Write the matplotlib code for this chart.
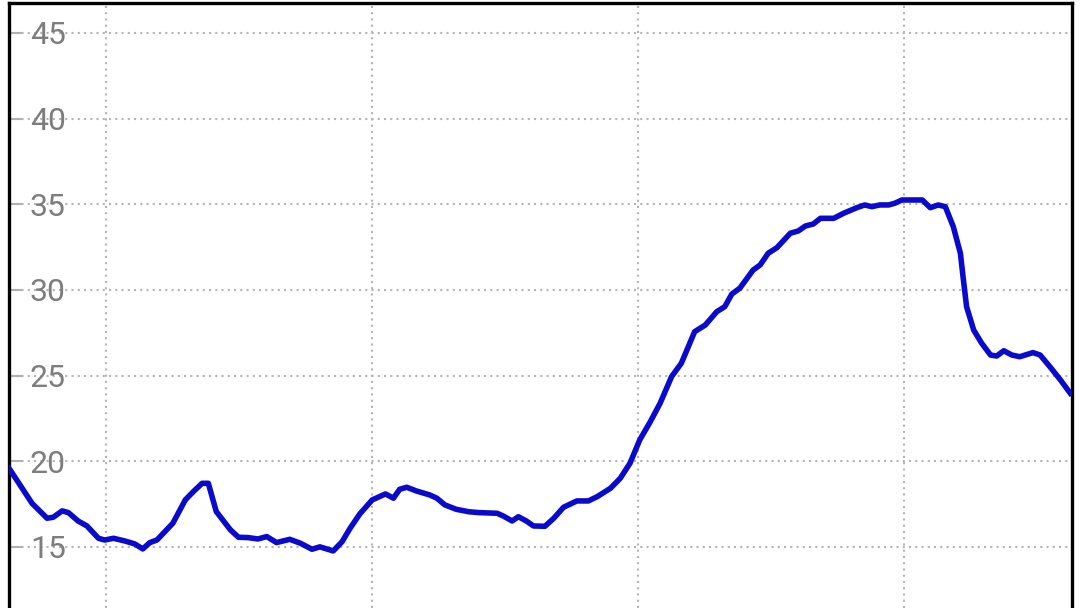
import matplotlib.pyplot as plt

# days since start, and the value on that day
days = [0.0, 2.6, 4.3, 5.0, 6.0, 6.7, 7.8, 8.8, 10.1, 10.8, 11.8, 13.1, 14.2, 15.1,
        15.9, 16.7, 17.6, 18.5, 19.9, 20.8, 21.8, 22.5, 23.4, 25.0, 25.9, 27.0,
        28.1, 29.1, 30.2, 31.7, 32.9, 34.2, 35.1, 36.6, 37.6, 38.5, 39.6, 41.0,
        42.5, 43.4, 44.1, 44.9, 46.0, 47.5, 48.3, 49.2, 50.5, 51.9, 53.0, 55.1,
        55.8, 56.8, 57.5, 58.4, 59.2, 60.5, 61.5, 62.6, 64.1, 65.4, 66.4, 67.9,
        69.0, 70.1, 71.2, 72.4, 73.5, 74.8, 75.9, 77.4, 78.6, 79.9, 80.8, 81.6,
        82.5, 84.0, 84.8, 85.7, 86.7, 88.2, 89.1, 89.9, 90.8, 91.6, 93.1, 94.2,
        95.7, 96.6, 97.4, 98.3, 99.3, 100.0, 100.8, 103.1, 104.0, 104.9, 105.7,
        106.6, 107.4, 107.7, 108.1, 108.9, 109.8, 110.8, 111.5, 112.3, 113.2,
        114.1, 115.6, 116.4, 117.5, 118.7, 119.8]
values = [19.59, 17.54, 16.67, 16.73, 17.10, 17.00, 16.51, 16.22, 15.50, 15.40,
          15.50, 15.34, 15.17, 14.88, 15.25, 15.40, 15.89, 16.38, 17.74, 18.22,
          18.71, 18.71, 17.06, 15.99, 15.56, 15.54, 15.46, 15.60, 15.25, 15.44,
          15.21, 14.86, 15.00, 14.76, 15.30, 16.08, 16.92, 17.74, 18.09, 17.84,
          18.36, 18.48, 18.26, 18.03, 17.84, 17.45, 17.19, 17.05, 17.00, 16.96,
          16.80, 16.51, 16.76, 16.51, 16.22, 16.20, 16.67, 17.31, 17.68, 17.68,
          17.93, 18.42, 19.00, 19.88, 21.24, 22.31, 23.38, 24.94, 25.72, 27.56,
          27.95, 28.73, 29.02, 29.76, 30.10, 31.16, 31.46, 32.14, 32.47, 33.31,
          33.44, 33.73, 33.85, 34.18, 34.18, 34.47, 34.80, 34.96, 34.86, 34.96,
          34.96, 35.06, 35.25, 35.25, 34.80, 34.96, 34.86, 33.69, 32.14, 30.77,
          29.02, 27.66, 26.89, 26.20, 26.14, 26.45, 26.20, 26.10, 26.34, 26.20,
          25.52, 24.74, 23.97]

y_ticks = [15, 20, 25, 30, 35, 40, 45]
x_grid = [11, 41, 71, 101]

plt.rcParams['font.family'] = ['Roboto', 'DejaVu Sans']

fig = plt.figure(figsize=(10.8, 6.08), dpi=100)
ax = fig.add_axes([9 / 1080, 0, 1063 / 1080, 605 / 608])

ax.plot(days, values, color='#0a0acc', lw=4.0, solid_joinstyle='round', zorder=3)

ax.set_xlim(0, 120)
ax.set_ylim(11.43, 46.75)
ax.set_xticks(x_grid)
ax.set_yticks(y_ticks)
ax.grid(True, color='#b4b4b4', linestyle=(0, (1, 2)), lw=1.5)

ax.tick_params(axis='x', length=0, labelbottom=False)
ax.tick_params(axis='y', direction='in', length=9, width=1.5, color='#b0b0b0',
               pad=-15, labelsize=23, labelcolor='#7d7d7d')
for lab in ax.get_yticklabels():
    lab.set_horizontalalignment('left')

for side in ['left', 'right', 'top']:
    ax.spines[side].set_linewidth(2.4)
    ax.spines[side].set_color('black')
ax.spines['bottom'].set_visible(False)

fig.savefig('out.png', dpi=100)
